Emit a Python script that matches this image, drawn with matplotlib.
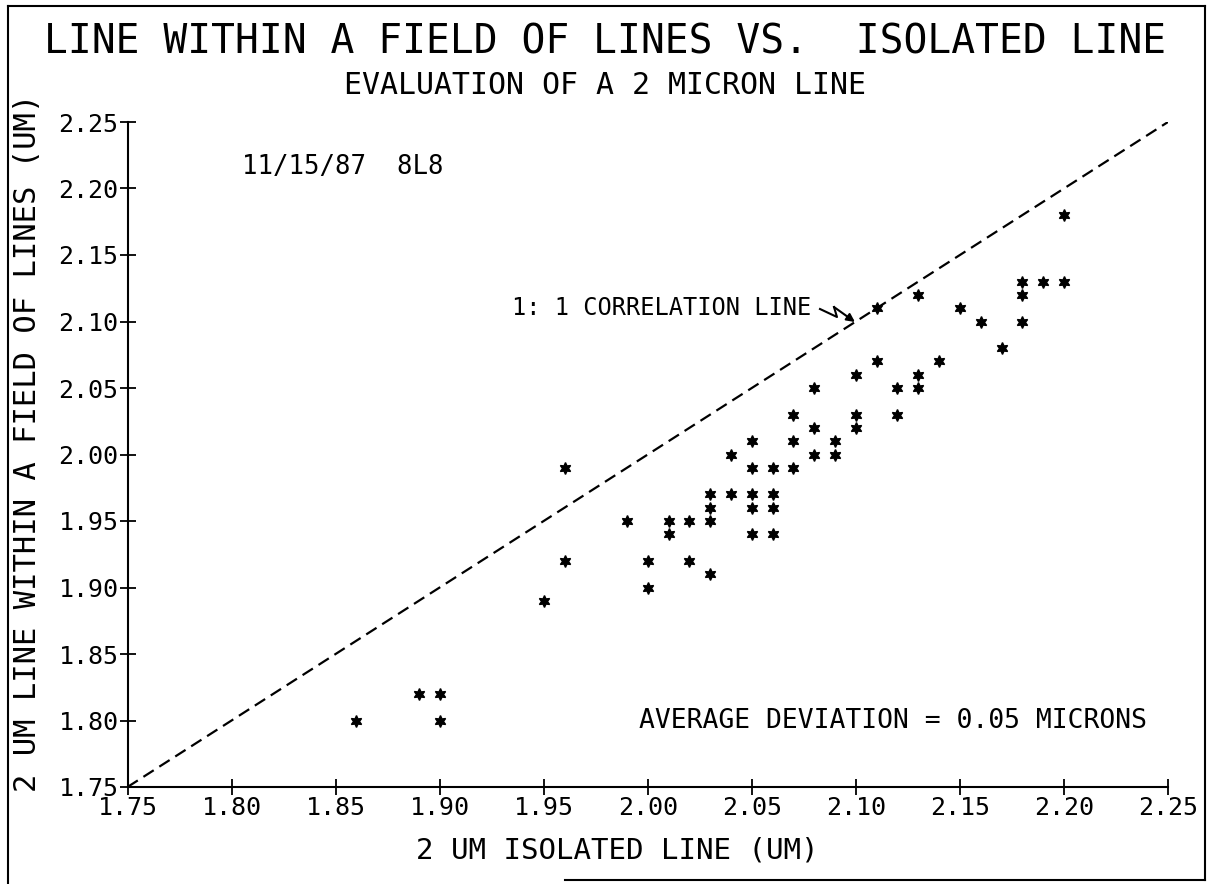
import numpy as np
import matplotlib
matplotlib.use('Agg')
import matplotlib.pyplot as plt
from matplotlib.lines import Line2D

plt.rcParams['font.family'] = 'DejaVu Sans Mono'

# Measured line widths (um)
isolated = [1.86, 1.89, 1.90, 1.90, 1.95, 1.96, 1.96, 1.99, 2.00, 2.00,
            2.01, 2.01, 2.02, 2.02, 2.03, 2.03, 2.03, 2.03, 2.04, 2.04,
            2.05, 2.05, 2.05, 2.05, 2.05, 2.06, 2.06, 2.06, 2.06, 2.07,
            2.07, 2.07, 2.08, 2.08, 2.08, 2.09, 2.09, 2.10, 2.10, 2.10,
            2.11, 2.11, 2.12, 2.12, 2.13, 2.13, 2.13, 2.14, 2.15, 2.16,
            2.17, 2.18, 2.18, 2.18, 2.19, 2.20, 2.20]
in_field = [1.80, 1.82, 1.82, 1.80, 1.89, 1.99, 1.92, 1.95, 1.92, 1.90,
            1.95, 1.94, 1.95, 1.92, 1.97, 1.96, 1.95, 1.91, 2.00, 1.97,
            2.01, 1.99, 1.97, 1.96, 1.94, 1.99, 1.97, 1.96, 1.94, 2.03,
            2.01, 1.99, 2.05, 2.02, 2.00, 2.01, 2.00, 2.06, 2.03, 2.02,
            2.11, 2.07, 2.05, 2.03, 2.12, 2.06, 2.05, 2.07, 2.11, 2.10,
            2.08, 2.13, 2.12, 2.10, 2.13, 2.18, 2.13]

ticks = [1.75, 1.80, 1.85, 1.90, 1.95, 2.00, 2.05, 2.10, 2.15, 2.20, 2.25]
lims = [1.75, 2.25]

W, H = 1212, 884
fig = plt.figure(figsize=(W / 100, H / 100), dpi=100)
ax = fig.add_axes([127.5 / W, 1 - 787 / H, (1168 - 127.5) / W, (787 - 122) / H])

# 1:1 line and data
ax.plot(lims, lims, color='black', lw=1.6, ls=(0, (5.5, 3)))
ax.plot(isolated, in_field, ls='none', marker=(6, 1, 0), ms=8.5, color='black')

ax.set_xlim(lims)
ax.set_ylim(lims)
ax.set_xticks(ticks)
ax.set_yticks(ticks)
ax.set_xticklabels(['%.2f' % t for t in ticks])
ax.set_yticklabels(['%.2f' % t for t in ticks])
ax.tick_params(direction='inout', length=11, width=1.3, labelsize=18, pad=1)
for s in ['top', 'right']:
    ax.spines[s].set_visible(False)
for s in ['left', 'bottom']:
    ax.spines[s].set_linewidth(1.5)

# axis titles
fig.text(617 / W, 1 - 850 / H, '2 UM ISOLATED LINE (UM)', fontsize=21,
         ha='center', va='center')
fig.text(28 / W, 1 - 443 / H, '2 UM LINE WITHIN A FIELD OF LINES (UM)',
         fontsize=22, rotation=90, ha='center', va='center')

fig.text(605 / W, 1 - 42 / H, 'LINE WITHIN A FIELD OF LINES VS.  ISOLATED LINE',
         ha='center', va='center', fontsize=28.5)
fig.text(605 / W, 1 - 86 / H, 'EVALUATION OF A 2 MICRON LINE',
         ha='center', va='center', fontsize=21.5)

ax.text(1.805, 2.216, '11/15/87  8L8', fontsize=18.5, va='center', ha='left')
ax.text(1.935, 2.110, '1: 1 CORRELATION LINE', fontsize=17, va='center', ha='left')
ax.text(2.24, 1.800, 'AVERAGE DEVIATION = 0.05 MICRONS', fontsize=19,
        va='center', ha='right')

# zigzag pointer to the 1:1 line
def px(x, y):
    return (1.75 + (x - 127.5) * 0.01 / 20.84, 1.75 + (787 - y) * 0.01 / 13.3)

zz = [px(821, 309), px(838, 317), px(835, 307), px(856, 322)]
ax.plot([p[0] for p in zz[:3]], [p[1] for p in zz[:3]], color='black', lw=1.5)
ax.annotate('', xy=zz[3], xytext=zz[2],
            arrowprops=dict(arrowstyle='-|>', color='black', lw=1.5,
                            mutation_scale=12, shrinkA=0, shrinkB=0))

# page frame
frame = dict(color='black', lw=1.5, transform=fig.transFigure)
fig.add_artist(Line2D([8 / W, 8 / W], [0, 1 - 6 / H], **frame))
fig.add_artist(Line2D([1205 / W, 1205 / W], [4 / H, 1 - 6 / H], **frame))
fig.add_artist(Line2D([8 / W, 1205 / W], [1 - 6 / H, 1 - 6 / H], **frame))
fig.add_artist(Line2D([565 / W, 1205 / W], [4 / H, 4 / H], **frame))

fig.savefig('out.png', dpi=100, facecolor='white')
